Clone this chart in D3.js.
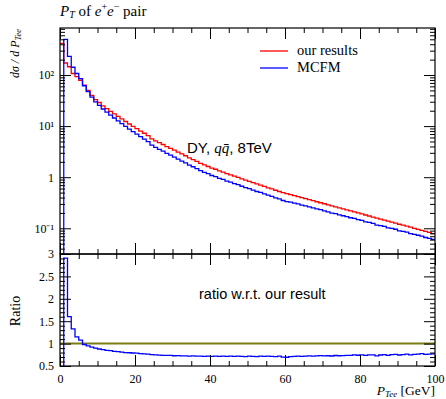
<!DOCTYPE html>
<html>
<head>
<meta charset="utf-8">
<script src="https://cdn.jsdelivr.net/npm/d3@7"></script>
<style>
  body { margin: 0; background: #fff; }
  svg { display: block; }
  .tick text { font-family: "Liberation Serif", serif; font-size: 12px; fill: #000; }
</style>
</head>
<body>
<div id="chart-area"></div>
<script>
const WIDTH = 446
const HEIGHT = 399
const PLOT = { LEFT: 60, RIGHT: 435, TOP: 28, MID: 254, BOTTOM: 366 }

// bin edges 0..100 GeV, 1 GeV wide
const binEdges = d3.range(0, 101)

// "our results" (red), dσ/dP_Tee per bin
const ourResults = [
  417, 172, 145, 107, 93, 79, 63, 50, 40, 33,
  29, 25, 22, 19.5, 17.4, 15.5, 13.8, 12.3, 11.0, 9.9,
  8.9, 8.0, 7.25, 6.5, 5.62, 5.13, 4.73, 4.37, 3.98, 3.67,
  3.39, 3.09, 2.85, 2.63, 2.40, 2.21, 2.04, 1.86, 1.74, 1.62,
  1.51, 1.43, 1.33, 1.26, 1.17, 1.11, 1.05, 0.99, 0.93, 0.88,
  0.83, 0.785, 0.74, 0.70, 0.66, 0.62, 0.59, 0.556, 0.525, 0.50,
  0.479, 0.457, 0.437, 0.417, 0.398, 0.380, 0.363, 0.347, 0.331, 0.316,
  0.302, 0.288, 0.275, 0.263, 0.251, 0.240, 0.229, 0.219, 0.209, 0.200,
  0.191, 0.182, 0.174, 0.166, 0.158, 0.151, 0.145, 0.138, 0.132, 0.126,
  0.120, 0.115, 0.110, 0.105, 0.100, 0.0955, 0.091, 0.087, 0.083, 0.079
]

// MCFM (blue)
const mcfm = [
  0.01, 500, 232, 142, 107, 85, 61.7, 47.5, 36.8, 29.7,
  25.5, 21.6, 18.7, 16.4, 14.4, 12.7, 11.2, 9.84, 8.75, 7.82,
  6.99, 6.2, 5.58, 4.97, 4.24, 3.85, 3.52, 3.23, 2.93, 2.70,
  2.47, 2.26, 2.07, 1.91, 1.73, 1.60, 1.47, 1.34, 1.24, 1.17,
  1.08, 1.03, 0.951, 0.907, 0.837, 0.799, 0.751, 0.713, 0.665, 0.625,
  0.598, 0.561, 0.525, 0.504, 0.472, 0.446, 0.422, 0.395, 0.378, 0.350,
  0.333, 0.324, 0.312, 0.300, 0.285, 0.274, 0.263, 0.250, 0.240, 0.231,
  0.219, 0.210, 0.199, 0.193, 0.183, 0.176, 0.169, 0.161, 0.156, 0.148,
  0.143, 0.134, 0.130, 0.1245, 0.115, 0.1125, 0.1095, 0.102, 0.0997, 0.0958,
  0.0894, 0.0868, 0.0842, 0.0788, 0.076, 0.0731, 0.0705, 0.0661, 0.0635, 0.0608
]

const yMainTicks = [0.1, 1, 10, 100]
const yMainLabels = ["10⁻¹", "1", "10¹", "10²"]
const yRatioTicks = [0.5, 1, 1.5, 2, 2.5, 3]
const xTicks = [0, 20, 40, 60, 80, 100]

const svg = d3.select("#chart-area").append("svg")
  .attr("width", WIDTH)
  .attr("height", HEIGHT)

const x = d3.scaleLinear().domain([0, 100]).range([PLOT.LEFT, PLOT.RIGHT])
const y = d3.scaleLog().domain([0.0314, 832]).range([PLOT.MID, PLOT.TOP])
const yr = d3.scaleLinear().domain([0.5, 3]).range([PLOT.BOTTOM, PLOT.MID])

// clip paths
const defs = svg.append("defs")
defs.append("clipPath").attr("id", "clip-main").append("rect")
  .attr("x", PLOT.LEFT).attr("y", PLOT.TOP)
  .attr("width", PLOT.RIGHT - PLOT.LEFT).attr("height", PLOT.MID - PLOT.TOP)
defs.append("clipPath").attr("id", "clip-ratio").append("rect")
  .attr("x", PLOT.LEFT).attr("y", PLOT.MID)
  .attr("width", PLOT.RIGHT - PLOT.LEFT).attr("height", PLOT.BOTTOM - PLOT.MID)

function steps(vals) {
  const pts = vals.map((v, i) => [binEdges[i], v])
  pts.push([binEdges[vals.length], vals[vals.length - 1]])
  return pts
}

const lineMain = d3.line().curve(d3.curveStepAfter)
  .x(d => x(d[0])).y(d => y(d[1]))
const lineRatio = d3.line().curve(d3.curveStepAfter)
  .x(d => x(d[0])).y(d => yr(d[1]))

const ratio = mcfm.map((v, i) => v / ourResults[i])

// main histograms
const gMain = svg.append("g").attr("clip-path", "url(#clip-main)")
gMain.append("path").attr("d", lineMain(steps(ourResults)))
  .attr("fill", "none").attr("stroke", "#ff0000").attr("stroke-width", 1.3)
gMain.append("path").attr("d", lineMain(steps(mcfm)))
  .attr("fill", "none").attr("stroke", "#0000ff").attr("stroke-width", 1.3)

// ratio panel
const gRatio = svg.append("g").attr("clip-path", "url(#clip-ratio)")
gRatio.append("line")
  .attr("x1", PLOT.LEFT).attr("x2", PLOT.RIGHT)
  .attr("y1", yr(1)).attr("y2", yr(1))
  .attr("stroke", "#7d7d12").attr("stroke-width", 2)
gRatio.append("path").attr("d", lineRatio(steps(ratio)))
  .attr("fill", "none").attr("stroke", "#0000ff").attr("stroke-width", 1.3)

// axes (ticks inward)
function addAxis(axis, tx, ty) {
  const g = svg.append("g")
    .attr("transform", `translate(${tx},${ty})`).call(axis)
  g.select(".domain").remove()
  g.selectAll(".tick line").attr("stroke", "#000").attr("stroke-width", 1)
  return g
}

const minorX = d3.range(0, 101, 5).filter(d => d % 20 !== 0)
const minorLog = []
for (let e = -2; e <= 2; e++) {
  for (let k = 2; k <= 9; k++) {
    const v = k * Math.pow(10, e)
    if (v > 0.0314 && v < 832) minorLog.push(v)
  }
}
const minorRatio = d3.range(5, 31).map(d => d / 10).filter(d => Math.round(d * 10) % 5 !== 0)

// x ticks on both panels, top and bottom edges
;[[PLOT.TOP, "top"], [PLOT.MID, "bottom"], [PLOT.MID, "top"]].forEach(([yy, side]) => {
  const mk = side === "top" ? d3.axisTop : d3.axisBottom
  addAxis(mk(x).tickValues(xTicks).tickSize(-11).tickFormat(""), 0, yy)
  addAxis(mk(x).tickValues(minorX).tickSize(-5).tickFormat(""), 0, yy)
})
addAxis(d3.axisBottom(x).tickValues(xTicks).tickSize(-11).tickPadding(8)
  .tickFormat(d => d), 0, PLOT.BOTTOM)
addAxis(d3.axisBottom(x).tickValues(minorX).tickSize(-5).tickFormat(""), 0, PLOT.BOTTOM)

// main y axis
addAxis(d3.axisLeft(y).tickValues(yMainTicks).tickSize(-11).tickPadding(6)
  .tickFormat((d, i) => yMainLabels[i]), PLOT.LEFT, 0)
addAxis(d3.axisLeft(y).tickValues(minorLog).tickSize(-5).tickFormat(""), PLOT.LEFT, 0)
addAxis(d3.axisRight(y).tickValues(yMainTicks).tickSize(-11).tickFormat(""), PLOT.RIGHT, 0)
addAxis(d3.axisRight(y).tickValues(minorLog).tickSize(-5).tickFormat(""), PLOT.RIGHT, 0)

// ratio y axis
addAxis(d3.axisLeft(yr).tickValues(yRatioTicks).tickSize(-11).tickPadding(6)
  .tickFormat(d => d), PLOT.LEFT, 0)
addAxis(d3.axisLeft(yr).tickValues(minorRatio).tickSize(-5).tickFormat(""), PLOT.LEFT, 0)
addAxis(d3.axisRight(yr).tickValues(yRatioTicks).tickSize(-11).tickFormat(""), PLOT.RIGHT, 0)
addAxis(d3.axisRight(yr).tickValues(minorRatio).tickSize(-5).tickFormat(""), PLOT.RIGHT, 0)

// frames
svg.append("rect").attr("x", PLOT.LEFT).attr("y", PLOT.TOP)
  .attr("width", PLOT.RIGHT - PLOT.LEFT).attr("height", PLOT.MID - PLOT.TOP)
  .attr("fill", "none").attr("stroke", "#000").attr("stroke-width", 1.2)
svg.append("rect").attr("x", PLOT.LEFT).attr("y", PLOT.MID)
  .attr("width", PLOT.RIGHT - PLOT.LEFT).attr("height", PLOT.BOTTOM - PLOT.MID)
  .attr("fill", "none").attr("stroke", "#000").attr("stroke-width", 1.2)

const serif = "'Liberation Serif', serif"
const sans = "'Liberation Sans', Arial, sans-serif"

// title
const title = svg.append("text").attr("x", 60).attr("y", 16)
  .style("font-family", serif).style("font-size", "15px")
title.append("tspan").style("font-style", "italic").text("P")
title.append("tspan").style("font-style", "italic").style("font-size", "10px")
  .attr("dy", 2).text("T")
title.append("tspan").attr("dy", -2).text(" of ")
title.append("tspan").style("font-style", "italic").text("e")
title.append("tspan").style("font-size", "10px").attr("dy", -6).text("+")
title.append("tspan").style("font-style", "italic").attr("dy", 6).text("e")
title.append("tspan").style("font-size", "10px").attr("dy", -6).text("−")
title.append("tspan").attr("dy", 6).text("  pair")

// y label main
const yl = svg.append("text")
  .attr("transform", "translate(19, 29) rotate(-90)")
  .attr("text-anchor", "end")
  .style("font-family", serif).style("font-size", "12px").style("font-style", "italic")
yl.append("tspan").text("dσ / d P")
yl.append("tspan").style("font-size", "8.5px").attr("dy", 2).text("Tee")

// y label ratio
svg.append("text")
  .attr("transform", "translate(20, 311) rotate(-90)")
  .attr("text-anchor", "middle")
  .style("font-family", serif).style("font-size", "14px")
  .text("Ratio")

// x label
const xl = svg.append("text").attr("x", 435).attr("y", 395)
  .attr("text-anchor", "end")
  .style("font-family", serif).style("font-size", "13.5px")
xl.append("tspan").style("font-style", "italic").text("P")
xl.append("tspan").style("font-style", "italic").style("font-size", "9px")
  .attr("dy", 2).text("Tee")
xl.append("tspan").attr("dy", -2).text(" [GeV]")

// legend
const legend = [
  { label: "our results", color: "#ff0000", y: 51 },
  { label: "MCFM", color: "#0000ff", y: 68 }
]
legend.forEach(d => {
  svg.append("line").attr("x1", 260).attr("x2", 288)
    .attr("y1", d.y).attr("y2", d.y)
    .attr("stroke", d.color).attr("stroke-width", 1.3)
  svg.append("text").attr("x", 297).attr("y", d.y + 4)
    .style("font-family", serif).style("font-size", "14.5px")
    .text(d.label)
})

// annotations
const dy = svg.append("text").attr("x", 187).attr("y", 153)
  .style("font-family", sans).style("font-size", "15px")
dy.append("tspan").text("DY, ")
dy.append("tspan").style("font-family", serif).style("font-style", "italic").text("q")
dy.append("tspan").style("font-family", serif).style("font-style", "italic").text("q̄")
dy.append("tspan").text(", 8TeV")

svg.append("text").attr("x", 199).attr("y", 299)
  .style("font-family", sans).style("font-size", "14.5px")
  .text("ratio w.r.t. our result")
</script>
</body>
</html>
